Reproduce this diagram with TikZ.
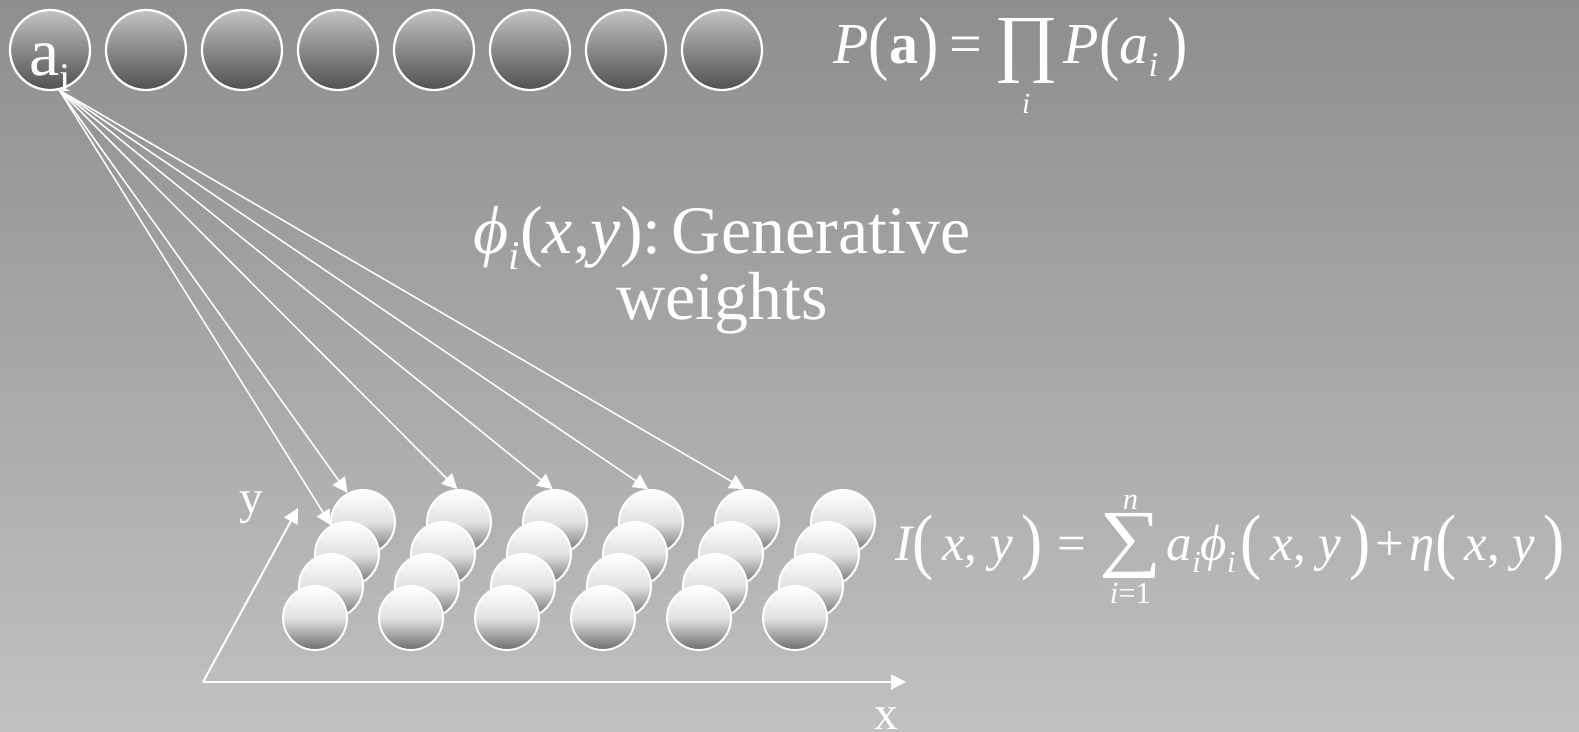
\documentclass[tikz,border=0pt]{standalone}
\usepackage{fontspec}
\setmainfont{Liberation Serif}
\usepackage{graphicx}
\usetikzlibrary{positioning,arrows.meta}

\definecolor{bgtop}{HTML}{8E8E8E}
\definecolor{bgbottom}{HTML}{C1C1C1}
\definecolor{unittop}{HTML}{C2C2C2}
\definecolor{unitbottom}{HTML}{505050}
\definecolor{pixelmid}{HTML}{E2E2E2}
\definecolor{pixelbottom}{HTML}{6C6C6C}

% small lowered index, stretched brackets, big operators
\newcommand{\subidx}[1]{\raisebox{-0.24em}{\scalebox{0.6}{#1}}}
\newcommand{\midp}[1]{\raisebox{-0.06em}{\scalebox{1.05}[1.22]{#1}}}
\newcommand{\tallp}[1]{\raisebox{-0.11em}{\scalebox{1.25}[1.43]{#1}}}
\newcommand{\bigsym}[4]{\raisebox{-#4}{\resizebox{#2}{#3}{\raisebox{\depth}{#1}}}}

\begin{document}
\begin{tikzpicture}[
    x=0.02cm, y=-0.02cm,
    every node/.style={text=white},
    bigtext/.style={font=\fontsize{38.7}{37.6}\selectfont},
    axislabel/.style={font=\fontsize{27}{30}\selectfont, inner sep=0pt},
    unit/.style={circle, draw=white, line width=1.3pt, top color=unittop, bottom color=unitbottom, minimum size=1.6cm, inner sep=0pt},
    pixel/.style={circle, draw=white, line width=1.1pt, top color=white, bottom color=pixelbottom, middle color=pixelmid, minimum size=1.28cm, inner sep=0pt},
    weight/.style={-{Triangle[length=0.3cm, width=0.3cm]}, draw=white, line width=0.85pt},
    axisline/.style={weight, line width=1.1pt},
]

% Background
\fill[top color=bgtop, bottom color=bgbottom] (0,0) rectangle (1579,731);
\useasboundingbox (0,0) rectangle (1579,731);

% Top row: coefficient units
\node[unit, bigtext] (a1) at (50,50) {\raisebox{-0.37em}[0pt][0pt]{a\subidx{i}}};
\foreach \k in {2,...,8}
    \node[unit] (a\k) at ({50+96*(\k-1)},50) {};

% Image plane, back row first
\foreach \r in {1,...,4}
    \foreach \c in {1,...,6}
        \node[pixel] (s\c-\r) at ({363+96*(\c-1)-16*(\r-1)},{522+32*(\r-1)}) {};

% Generative weights
\draw[weight] (a1.-77) -- (s1-2.119);
\draw[weight] (a1.-77) -- (s1-1.118);
\draw[weight] (a1.-77) -- (s2-1.93);
\draw[weight] (a1.-77) -- (s3-1.94);
\draw[weight] (a1.-77) -- (s4-1.95);
\draw[weight] (a1.-77) -- (s5-1.94);

\node[bigtext, align=center] (gen) at (722,270) {{\itshape ϕ}\subidx{\itshape i}(\textit{x},\textit{y}):\hspace{0.15em}Generative\\weights};

% Axes
\coordinate (origin) at (203,682);
\coordinate (xend) at (906,682);
\coordinate (yend) at (298,508);
\draw[axisline] (origin) -- (xend);
\draw[axisline] (origin) -- (yend);
\node[axislabel, anchor=base] (xlab) at (886,729) {x};
\node[axislabel, anchor=base] (ylab) at (251,513) {y};

% Equations
\node[anchor=base west, inner sep=0pt, font=\fontsize{33}{40}\selectfont] (prior) at (833,63)
    {{\itshape P}\midp{(}\textbf{a}\midp{)}\hspace{0.2em}=\hspace{0.2em}$\mathop{\hbox{\bigsym{∏}{1.28cm}{1.3cm}{0.4cm}}}\limits_{\hbox{\raisebox{-0.35em}{\scalebox{0.5}{\itshape i}}}}$\hspace{0.1em}{\itshape P}\midp{(}{\itshape a}\subidx{\itshape i}\hspace{0.15em}\midp{)}};
\node[anchor=base west, inner sep=0pt, font=\fontsize{29}{35}\selectfont] (model) at (895,560)
    {{\itshape I}\tallp{(}\,{\itshape x}, {\itshape y}\,\tallp{)}\hspace{0.3em}=\hspace{0.25em}$\mathop{\hbox{\bigsym{∑}{1.25cm}{1.3cm}{0.36cm}}}\limits_{\hbox{\raisebox{-0.3em}{\scalebox{0.6}{{\itshape i}=1}}}}^{\hbox{\scalebox{0.6}{\itshape n}}}$\hspace{0.1em}{\itshape a}\subidx{\itshape i}{\itshape ϕ}\subidx{\itshape i}\hspace{0.1em}\tallp{(}\,{\itshape x}, {\itshape y}\,\tallp{)}\hspace{0.1em}+\hspace{0.1em}{\itshape η}\tallp{(}\,{\itshape x}, {\itshape y}\,\tallp{)}};

\end{tikzpicture}
\end{document}
